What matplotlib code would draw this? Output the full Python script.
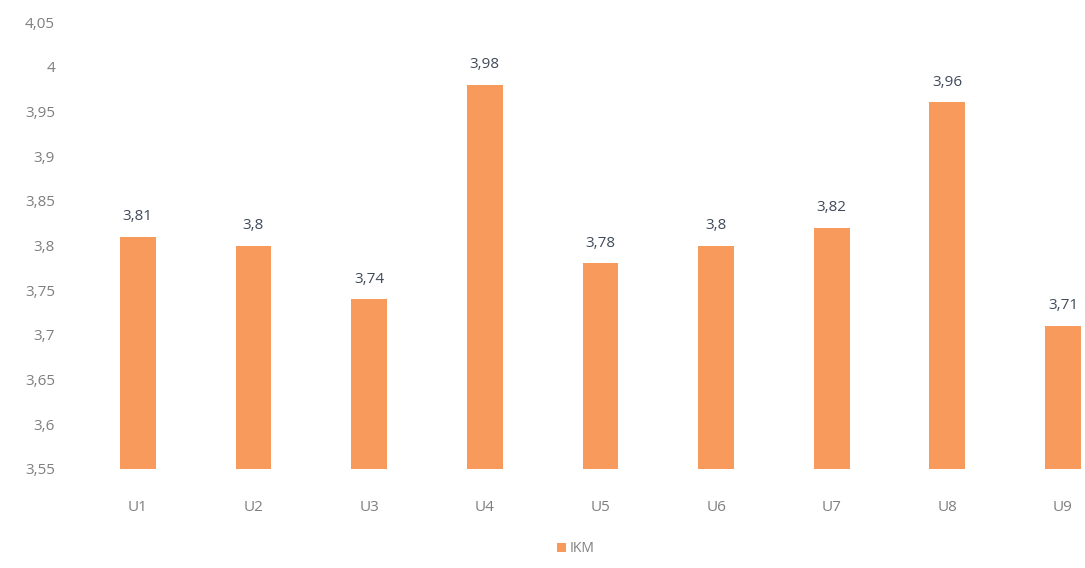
import matplotlib
matplotlib.use("Agg")
import matplotlib.pyplot as plt
from matplotlib.ticker import FixedLocator, FuncFormatter

categories = ["U1", "U2", "U3", "U4", "U5", "U6", "U7", "U8", "U9"]
ikm = [3.81, 3.80, 3.74, 3.98, 3.78, 3.80, 3.82, 3.96, 3.71]
y_ticks = [3.55, 3.60, 3.65, 3.70, 3.75, 3.80, 3.85, 3.90, 3.95, 4.00, 4.05]

BAR = "#F79A5C"
TICK = "#7F7F7F"
LABEL = "#404A5A"

plt.rcParams["font.family"] = ["Open Sans", "DejaVu Sans"]

fig = plt.figure(figsize=(10.85, 5.68), dpi=100)
W, H = 1085, 568
left, right_px = 80, 1085
bottom_px, top_px = 469, 22
ax = fig.add_axes([left / W, 1 - bottom_px / H, (right_px - left) / W, (bottom_px - top_px) / H])

x = list(range(len(categories)))
bars = ax.bar(x, ikm, width=0.31, color=BAR, bottom=0, label="IKM")
ax.set_ylim(3.55, 4.05)
ax.set_xlim(-0.5, 8.19)

def fmt(v):
    s = f"{v:.2f}".rstrip("0").rstrip(".")
    return s.replace(".", ",")

ax.yaxis.set_major_locator(FixedLocator(y_ticks))
ax.yaxis.set_major_formatter(FuncFormatter(lambda v, p: fmt(v)))
ax.set_xticks(x)
ax.set_xticklabels(categories)
ax.tick_params(axis="both", length=0, labelsize=11, labelcolor=TICK)
ax.tick_params(axis="y", pad=18)
ax.tick_params(axis="x", pad=22)
for s in ax.spines.values():
    s.set_visible(False)

for xi, v in zip(x, ikm):
    ax.annotate(fmt(v), (xi, v), xytext=(0, 9), textcoords="offset points",
                ha="center", va="bottom", fontsize=11, color=LABEL)

fig.legend(handles=[bars], labels=["IKM"], loc="center", bbox_to_anchor=(576 / W, 1 - 549 / H),
           frameon=False, fontsize=10, handlelength=0.6, handleheight=0.6,
           handletextpad=0.3, labelcolor=TICK)

fig.savefig("out.png", dpi=100)
